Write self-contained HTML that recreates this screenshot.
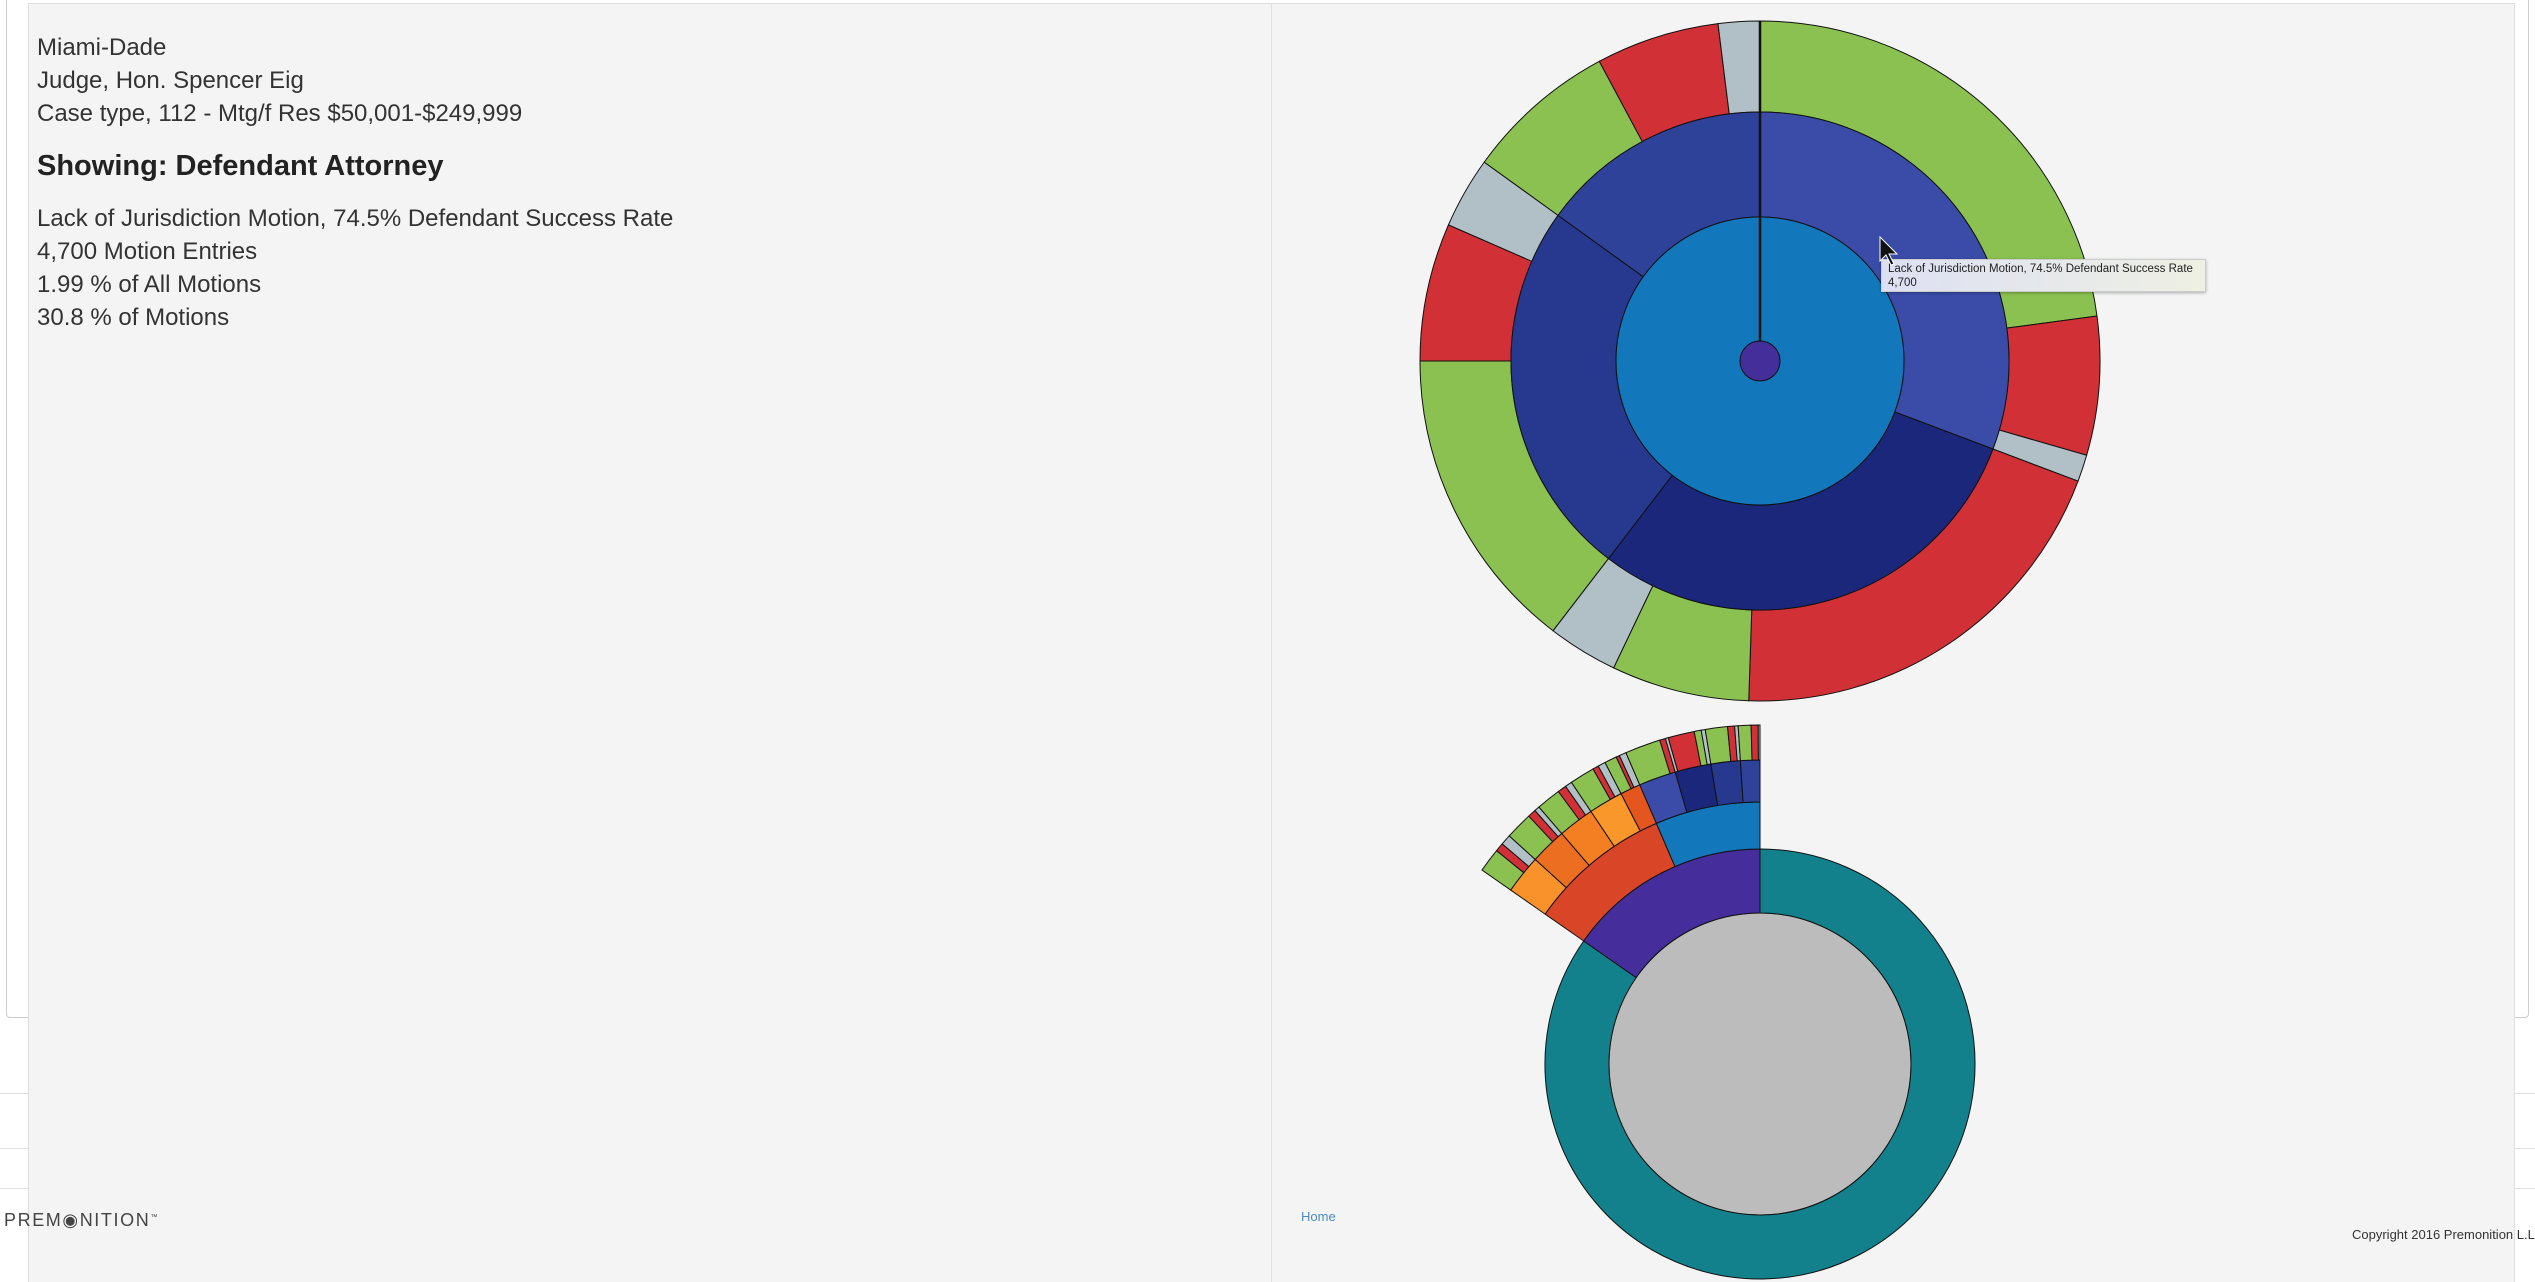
<!DOCTYPE html>
<html><head><meta charset="utf-8"><style>
html,body{margin:0;padding:0;background:#fff;width:2535px;height:1282px;overflow:hidden;position:relative;font-family:"Liberation Sans",sans-serif;color:#333}
.box{position:absolute;border:1px solid #ccc;border-radius:4px;background:#fff}
.hl{position:absolute;height:1px;background:#e2e2e2}
#panel{position:absolute;left:28px;top:3px;width:2485px;height:1285px;background:#f4f4f4;border:1px solid #ddd}
#div{position:absolute;left:1271px;top:3px;width:1px;height:1290px;background:#e0e0e0}
.t{position:absolute;left:37px;font-size:24px;white-space:nowrap;line-height:1}
svg{position:absolute;left:0;top:0}
</style></head><body>
<div class="box" style="left:6px;top:-10px;width:2521px;height:1026px"></div>
<div class="hl" style="left:0;top:1093px;width:2535px"></div>
<div class="hl" style="left:0;top:1148px;width:2535px"></div>
<div class="hl" style="left:0;top:1188px;width:2535px"></div>
<div id="panel"></div>
<div id="div"></div>
<div class="t" style="top:36px">Miami-Dade</div>
<div class="t" style="top:69px">Judge, Hon. Spencer Eig</div>
<div class="t" style="top:102px">Case type, 112 - Mtg/f Res $50,001-$249,999</div>
<div class="t" style="top:152px;font-size:29px;font-weight:bold;color:#222">Showing: Defendant Attorney</div>
<div class="t" style="top:207px">Lack of Jurisdiction Motion, 74.5% Defendant Success Rate</div>
<div class="t" style="top:240px">4,700 Motion Entries</div>
<div class="t" style="top:273px">1.99 % of All Motions</div>
<div class="t" style="top:306px">30.8 % of Motions</div>
<div style="position:absolute;left:4px;top:1210px;font-size:18px;letter-spacing:1.6px;color:#444;white-space:nowrap">PREM◉NITION<sup style="font-size:7px">™</sup></div>
<div style="position:absolute;left:1301px;top:1209px;font-size:13px;color:#4a8ac4">Home</div>
<div style="position:absolute;left:2352px;top:1227px;font-size:13px;color:#333;white-space:nowrap">Copyright 2016 Premonition L.L.C.</div>
<svg id="s" width="2535" height="1282"></svg>
<div style="position:absolute;left:1881px;top:259px;width:325px;height:33px;background:linear-gradient(90deg,#dde0f2,#eef0e4);border:1px solid #ccc;box-shadow:0 1px 3px rgba(0,0,0,.3);font-size:11.5px;color:#222;line-height:14px;padding:2px 0 0 6px;box-sizing:border-box;white-space:nowrap">Lack of Jurisdiction Motion, 74.5% Defendant Success Rate<br>4,700</div>
<svg width="2535" height="1282" style="pointer-events:none"><path d="M1880 237 l0 24 l6 -6 l5 10 l3 -1 l-5 -10 l8 0 z" fill="#111" stroke="#fff" stroke-width="1"/></svg>
<script>
var s=document.getElementById('s'),h='';
function arc(cx,cy,r0,r1,a0,a1,c){
 function p(r,a){a=a*Math.PI/180;return (cx+r*Math.sin(a)).toFixed(2)+' '+(cy-r*Math.cos(a)).toFixed(2);}
 var l=(a1-a0)>180?1:0;
 h+='<path d="M'+p(r1,a0)+' A'+r1+' '+r1+' 0 '+l+' 1 '+p(r1,a1)+' L'+p(r0,a1)+' A'+r0+' '+r0+' 0 '+l+' 0 '+p(r0,a0)+'Z" fill="'+c+'" stroke="#111" stroke-width="1"/>';
}
var G='#8bc150',R='#d13036',Y='#b1bfc6';
var cx=1760,cy=361;
[[0,82.4,G],[82.4,106.1,R],[106.1,110.7,Y],[110.7,181.9,R],[181.9,205.5,G],[205.5,217.5,Y],[217.5,270,G],[270,293.6,R],[293.6,305.8,Y],[305.8,331.8,G],[331.8,352.9,R],[352.9,360,Y]].forEach(function(d){arc(cx,cy,249,340,d[0],d[1],d[2]);});
[[0,110.7,'#3a4ca8'],[110.7,217.5,'#1a277a'],[217.5,305.8,'#27388f'],[305.8,360,'#2f429a']].forEach(function(d){arc(cx,cy,144,249,d[0],d[1],d[2]);});
h+='<circle cx="1760" cy="361" r="144" fill="#1378bb" stroke="#111"/>';
h+='<line x1="1760" y1="361" x2="1760" y2="21" stroke="#111" stroke-width="2.5"/>';
h+='<circle cx="1760" cy="361" r="20" fill="#432e9a" stroke="#111"/>';
cx=1760;cy=1064;
h+='<circle cx="1760" cy="1064" r="151" fill="#bcbcbc" stroke="#111"/>';
arc(cx,cy,151,215,0,304.9,'#12818b');arc(cx,cy,151,215,304.9,360,'#452d9b');
arc(cx,cy,215,262,304.9,336.7,'#d84527');arc(cx,cy,215,262,336.7,360,'#1378bb');
[[304.9,312.3,'#f9922b'],[312.3,319.3,'#ec6e21'],[319.3,326.2,'#f47f22'],[326.2,332.8,'#f9972a'],[332.8,336.7,'#e4561d'],[336.7,343.8,'#3a4ca8'],[343.8,350.7,'#1a277a'],[350.7,356.3,'#27388f'],[356.3,360,'#2f429a']].forEach(function(d){arc(cx,cy,262,304,d[0],d[1],d[2]);});
[[304.9,309,G],[309,310.5,R],[310.5,312.3,Y],[312.3,317,G],[317,318.4,R],[318.4,319.3,Y],[319.3,323.5,G],[323.5,325,R],[325,326.2,Y],[326.2,330.5,G],[330.5,331.5,R],[331.5,332.8,Y],[332.8,334.9,G],[334.9,335.5,R],[335.5,336.7,Y],[336.7,342.8,G],[342.8,343.8,R],[343.8,344.3,Y],[344.3,348.8,R],[348.8,350,G],[350,350.7,Y],[350.7,354.5,G],[354.5,355.7,R],[355.7,356.3,Y],[356.3,358.5,G],[358.5,359.7,R],[359.7,360,Y]].forEach(function(d){arc(cx,cy,304,339,d[0],d[1],d[2]);});
s.innerHTML=h;
</script>
</body></html>
